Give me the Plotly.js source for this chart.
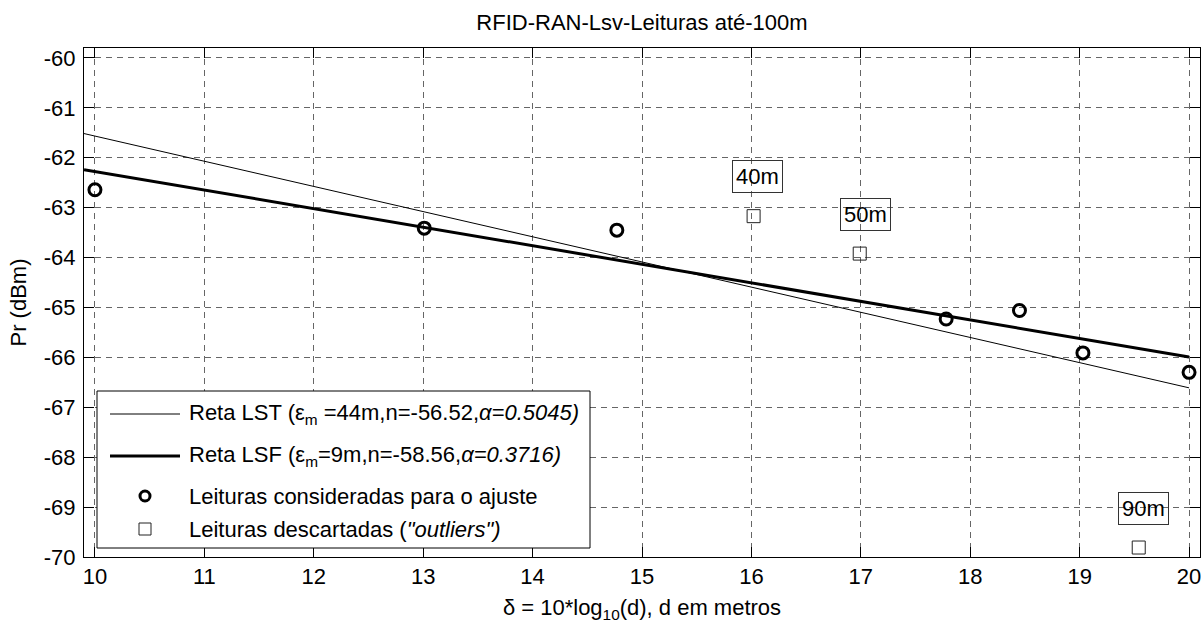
<!DOCTYPE html>
<html>
<head>
<meta charset="utf-8">
<script src="https://cdn.plot.ly/plotly-3.0.1.min.js"></script>
<style>
  html, body { margin: 0; padding: 0; background: #fff; }
  #chart { width: 1203px; height: 626px; }
</style>
</head>
<body>
<div id="chart"></div>
<script>
// Readings used in the fit: delta = 10*log10(d), received power in dBm
const keptDist  = [10, 20, 30, 60, 70, 80, 100];
const keptDelta = [10, 13.01, 14.77, 17.78, 18.45, 19.03, 20];
const keptPr    = [-62.64, -63.41, -63.45, -65.23, -65.06, -65.91, -66.30];

// Discarded readings (outliers)
const outDist  = [40, 50, 90];
const outDelta = [16.02, 16.99, 19.54];
const outPr    = [-63.17, -63.92, -69.81];
const outText  = ['40m', '50m', '90m'];
const outTextDelta = [16.06, 17.04, 19.58];
const outTextPr    = [-62.38, -63.14, -69.02];

// Fitted lines: Pr = n - alpha * delta
const lst = { n: -56.52, alpha: 0.5045, eps: '44m' };
const lsf = { n: -58.56, alpha: 0.3716, eps: '9m' };
const fitDelta = [9.9, 20];

const xTicks = [10, 11, 12, 13, 14, 15, 16, 17, 18, 19, 20];
const yTicks = [-70, -69, -68, -67, -66, -65, -64, -63, -62, -61, -60];

const W = 1203, H = 626;
const M = { l: 84, r: 3, t: 48, b: 69 };
const PW = W - M.l - M.r, PH = H - M.t - M.b;
const px = x => (x - M.l) / PW;          // pixel -> paper x
const py = y => (H - M.b - y) / PH;      // pixel -> paper y

const FONT = 'Liberation Sans, Arial, Helvetica, sans-serif';
const FS = 22;

const traces = [
  {
    x: fitDelta, y: fitDelta.map(d => lst.n - lst.alpha * d),
    mode: 'lines', line: { color: '#000', width: 1 },
    name: 'LST', showlegend: false, hoverinfo: 'skip'
  },
  {
    x: fitDelta, y: fitDelta.map(d => lsf.n - lsf.alpha * d),
    mode: 'lines', line: { color: '#000', width: 3 },
    name: 'LSF', showlegend: false, hoverinfo: 'skip'
  },
  {
    x: keptDelta, y: keptPr, text: keptDist.map(d => d + 'm'),
    mode: 'markers', name: 'kept', showlegend: false,
    marker: { symbol: 'circle-open', size: 12, color: '#000', line: { width: 3, color: '#000' } }
  },
  {
    x: outDelta, y: outPr, text: outDist.map(d => d + 'm'),
    mode: 'markers', name: 'outliers', showlegend: false,
    marker: { symbol: 'square-open', size: 13, color: '#222', line: { width: 1, color: '#222' } }
  }
];

// Boxed distance labels next to the outliers
const annotations = outText.map((t, i) => ({
  x: outTextDelta[i], y: outTextPr[i], xref: 'x', yref: 'y',
  text: t, showarrow: false, xanchor: 'center', yanchor: 'middle',
  font: { family: FONT, size: FS, color: '#000' },
  bordercolor: '#333', borderwidth: 1, borderpad: 3, bgcolor: 'rgba(0,0,0,0)'
}));

// Legend drawn as a white box with samples and labels
const legL = 97, legR = 590, legT = 391, legB = 548;
const rowY = [414, 456, 496, 529];
const symX = 145, textX = 187;
const shapes = [
  { type: 'rect', xref: 'paper', yref: 'paper', x0: px(legL), x1: px(legR), y0: py(legB), y1: py(legT),
    line: { color: '#000', width: 1 }, fillcolor: '#fff', layer: 'above' },
  { type: 'line', xref: 'paper', yref: 'paper', x0: px(110), x1: px(180), y0: py(rowY[0]), y1: py(rowY[0]),
    line: { color: '#000', width: 1 }, layer: 'above' },
  { type: 'line', xref: 'paper', yref: 'paper', x0: px(110), x1: px(180), y0: py(rowY[1]), y1: py(rowY[1]),
    line: { color: '#000', width: 3 }, layer: 'above' },
  { type: 'circle', xref: 'paper', yref: 'paper', xsizemode: 'pixel', ysizemode: 'pixel',
    xanchor: px(symX), yanchor: py(rowY[2]), x0: -5, x1: 5, y0: -5, y1: 5,
    line: { color: '#000', width: 3 }, layer: 'above' },
  { type: 'rect', xref: 'paper', yref: 'paper', xsizemode: 'pixel', ysizemode: 'pixel',
    xanchor: px(symX), yanchor: py(rowY[3]), x0: -6, x1: 6, y0: -6, y1: 6,
    line: { color: '#222', width: 1 }, layer: 'above' }
];

const legendText = [
  'Reta LST (ε<sub>m</sub> =' + lst.eps + ',n=' + lst.n + ',<i>α=' + lst.alpha + ')</i>',
  'Reta LSF (ε<sub>m</sub>=' + lsf.eps + ',n=' + lsf.n + ',<i>α=' + lsf.alpha + ')</i>',
  'Leituras consideradas para o ajuste',
  'Leituras descartadas (<i>"outliers")</i>'
];
legendText.forEach((t, i) => annotations.push({
  x: px(textX), y: py(rowY[i]), xref: 'paper', yref: 'paper',
  text: t, showarrow: false, xanchor: 'left', yanchor: 'middle',
  font: { family: FONT, size: FS, color: '#000' }
}));

const axisCommon = {
  showline: true, linecolor: '#000', linewidth: 1, mirror: 'all',
  ticks: 'inside', ticklen: 10, tickcolor: '#000', tickwidth: 1,
  showgrid: true, gridcolor: '#666', gridwidth: 1, griddash: '6px,5px',
  zeroline: false, tickfont: { family: FONT, size: FS, color: '#000' }
};

const layout = {
  width: W, height: H, margin: M,
  paper_bgcolor: '#fff', plot_bgcolor: '#fff',
  font: { family: FONT, size: FS, color: '#000' },
  title: {
    text: 'RFID-RAN-Lsv-Leituras até-100m',
    x: 0.5, xref: 'paper', xanchor: 'center',
    y: 1 - 22 / H, yref: 'container', yanchor: 'middle',
    font: { family: FONT, size: FS, color: '#000' }
  },
  xaxis: Object.assign({}, axisCommon, {
    range: [9.9, 20.1], tickvals: xTicks, ticktext: xTicks.map(String),
    title: { text: 'δ = 10*log<sub>10</sub>(d), d em metros', standoff: 11,
             font: { family: FONT, size: FS, color: '#000' } }
  }),
  yaxis: Object.assign({}, axisCommon, {
    range: [-70, -59.8], tickvals: yTicks, ticktext: yTicks.map(String),
    ticklabelstandoff: 3,
    title: { text: 'Pr (dBm)', standoff: 11,
             font: { family: FONT, size: FS, color: '#000' } }
  }),
  shapes: shapes,
  annotations: annotations,
  showlegend: false
};

Plotly.newPlot('chart', traces, layout, { displayModeBar: false, staticPlot: true });
</script>
</body>
</html>
